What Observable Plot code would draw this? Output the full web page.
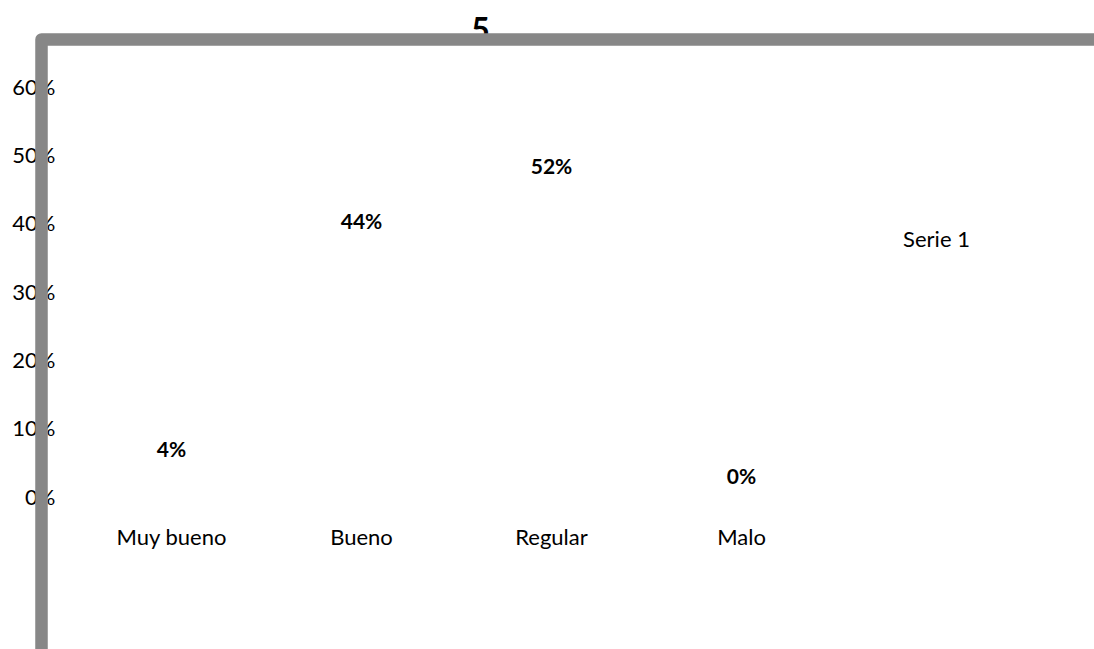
<!DOCTYPE html>
<html>
<head>
<meta charset="utf-8">
<script src="https://cdn.jsdelivr.net/npm/d3@7"></script>
<script src="https://cdn.jsdelivr.net/npm/@observablehq/plot@0.6"></script>
<style>
  html, body { margin: 0; padding: 0; background: #fff; overflow: hidden; }
  #chart svg { overflow: visible; }
</style>
</head>
<body>
<div id="chart"></div>
<script>
const categories = ["Muy bueno", "Bueno", "Regular", "Malo"];
const values = [0.04, 0.44, 0.52, 0.0];
const yTicks = [0, 0.1, 0.2, 0.3, 0.4, 0.5, 0.6];
const seriesName = "Serie 1";
const title = "5";

const data = categories.map((c, i) => ({category: c, value: values[i]}));
const pct = d3.format(".0%");

const chart = Plot.plot({
  width: 1094,
  height: 649,
  marginLeft: 41,
  marginTop: 39,
  marginRight: 0,
  marginBottom: 0,
  style: {fontFamily: "Lato, 'Open Sans', sans-serif", fontSize: "22px", color: "#000", background: "#fff"},
  x: {type: "band", domain: categories, range: [75, 836], padding: 0, axis: null},
  y: {domain: [0, 0.6], range: [497, 87], axis: null},
  marks: [
    Plot.barY(data, {x: "category", y: "value", fill: "white"}),
    Plot.axisY({ticks: yTicks, tickFormat: pct, tickSize: 0, tickPadding: -14, label: null, fontSize: 22, fill: "#000"}),
    Plot.text(categories, {x: d => d, y: () => 0, dy: 40, fontSize: 22, fill: "#000"}),
    Plot.text(data.filter(d => d.value > 0.3), {x: "category", y: "value", text: d => pct(d.value), dy: 25, fontWeight: "bold", fontSize: 21, fill: "#000"}),
    Plot.text(data.filter(d => d.value <= 0.3), {x: "category", y: "value", text: d => pct(d.value), dy: -20, fontWeight: "bold", fontSize: 21, fill: "#000"}),
    Plot.text([seriesName], {frameAnchor: "top-left", lineAnchor: "middle", dx: 895, dy: 200, textAnchor: "middle", fontSize: 22, fill: "#000"}),
    Plot.text([title], {frameAnchor: "top-left", lineAnchor: "middle", dx: 439, dy: -9, textAnchor: "middle", fontSize: 32, fontWeight: "bold", fill: "#000"}),
    Plot.frame({stroke: "#878787", strokeWidth: 12.5, strokeLinejoin: "round", insetRight: -60, insetBottom: -60})
  ]
});
document.getElementById("chart").appendChild(chart);
</script>
</body>
</html>
